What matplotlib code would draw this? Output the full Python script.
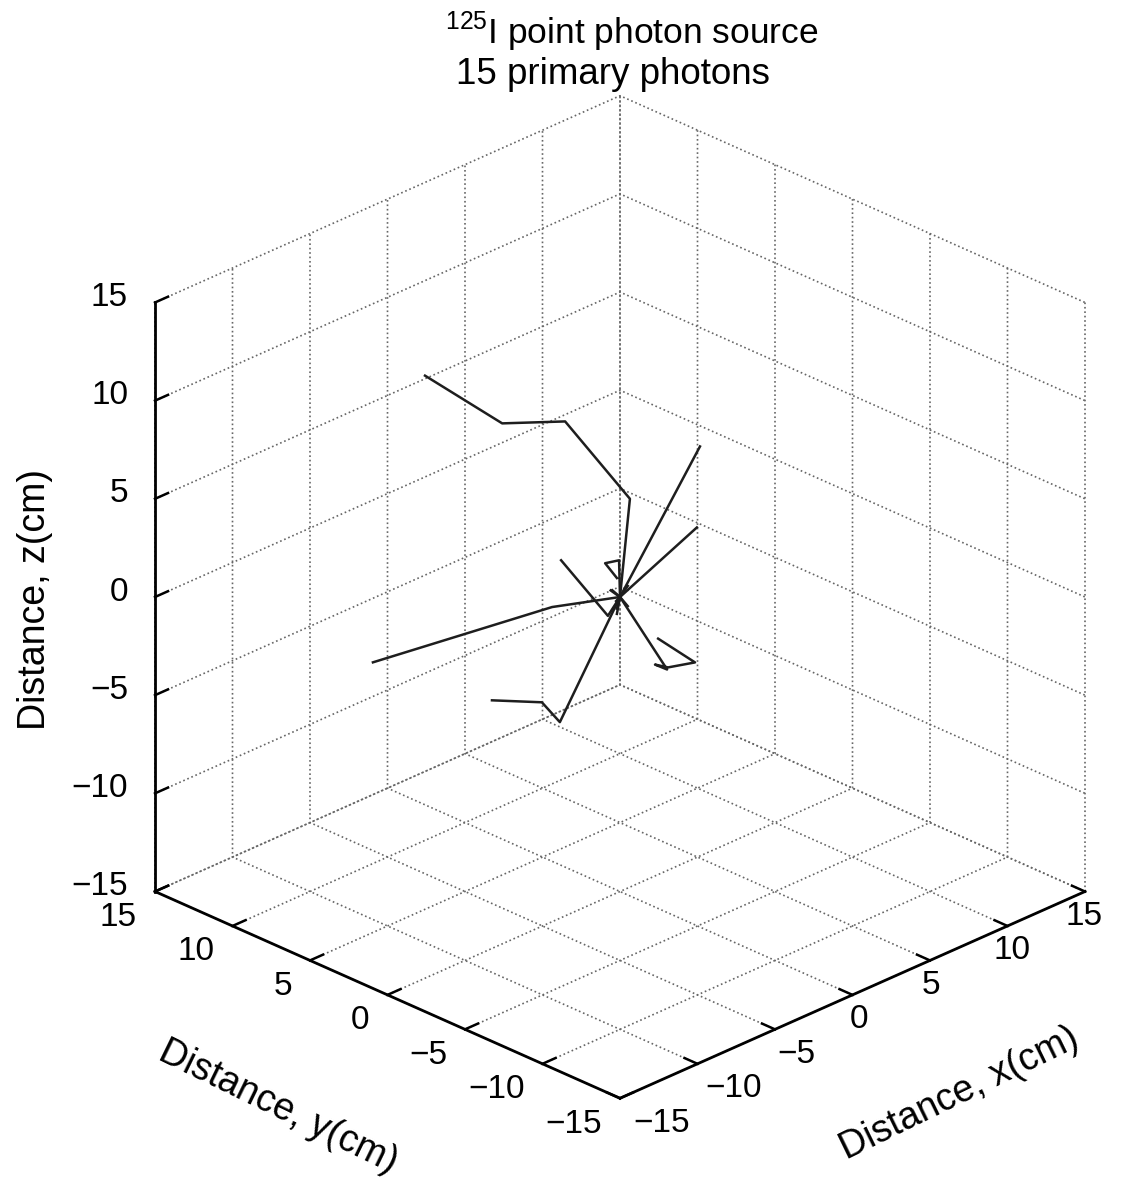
import matplotlib
matplotlib.use('Agg')
import matplotlib.pyplot as plt
from mpl_toolkits.mplot3d import proj3d
import numpy as np

plt.rcParams['font.family'] = ['Liberation Sans', 'DejaVu Sans']
plt.rcParams['mathtext.fontset'] = 'custom'
plt.rcParams['mathtext.rm'] = 'Liberation Sans'
plt.rcParams['grid.color'] = '#666666'
plt.rcParams['grid.linestyle'] = ':'
plt.rcParams['grid.linewidth'] = 1.2

# ---------------- data: 15 primary photon tracks starting at the source (0,0,0) ----------
tracks_x = [
    [0, 0.82, -0.77, -2.30, -4.29],
    [0, 1.58],
    [0, 3.98],
    [0, -0.39, -1.40],
    [0, -2.69, -6.97],
    [0, -3.44, -4.02, -5.13],
    [0, 0.52, 0.13, 0.80, 1.92, 1.23],
    [0, -0.03, -0.48, 0.15],
    [0, -0.10],
    [0, 0.30],
    [0, -0.25],
    [0, 0.15],
    [0, -0.40],
    [0, 0.20],
    [0, 0.05],
]
tracks_y = [
    [0, 0.18, 2.77, 5.30, 8.29],
    [0, -3.58],
    [0, -0.98],
    [0, 0.39, 2.40],
    [0, 1.69, 8.97],
    [0, 0.44, 1.02, 3.13],
    [0, -2.52, -2.13, -2.30, -2.92, -1.23],
    [0, 0.03, 0.48, 0.35],
    [0, 0.10],
    [0, -0.20],
    [0, 0.35],
    [0, 0.40],
    [0, 0.10],
    [0, -0.30],
    [0, 0.25],
]
tracks_z = [
    [0, 4.65, 8.24, 7.79, 9.87],
    [0, 8.37],
    [0, 2.49],
    [0, -0.96, 1.52],
    [0, -0.16, -4.03],
    [0, -5.32, -4.31, -4.56],
    [0, -2.99, -2.74, -3.06, -2.98, -2.12],
    [0, 1.87, 1.72, 0.79],
    [0, -0.86],
    [0, -0.50],
    [0, 0.30],
    [0, -0.40],
    [0, 0.45],
    [0, 0.60],
    [0, -0.70],
]
tick_values = [-15, -10, -5, 0, 5, 10, 15]
tick_labels = ['\u221215', '\u221210', '\u22125', '0', '5', '10', '15']
axis_limits = (-15, 15)
title_lines = [r'$^{125}$I point photon source', '15 primary photons']
xlabel = 'Distance, x(cm)'
ylabel = 'Distance, y(cm)'
zlabel = 'Distance, z(cm)'

W, H = 1147, 1179
fig = plt.figure(figsize=(W / 100, H / 100), dpi=100)
ax = fig.add_axes([0.1, 0.1, 0.8, 0.8], projection='3d')
ax.set_proj_type('ortho')
ax.view_init(elev=26.4, azim=-135)
ax.set_box_aspect((1, 1, 1))

for tx, ty, tz in zip(tracks_x, tracks_y, tracks_z):
    ax.plot(tx, ty, tz, color='#1e1e1e', lw=1.8)

ax.set_xlim(*axis_limits)
ax.set_ylim(*axis_limits)
ax.set_zlim(*axis_limits)
ax.set_xticks(tick_values)
ax.set_yticks(tick_values)
ax.set_zticks(tick_values)
ax.set_xticklabels([])
ax.set_yticklabels([])
ax.set_zticklabels([])

fs_tick = 24
fs_label = 27
fs_title = 26.5
for axis in (ax.xaxis, ax.yaxis, ax.zaxis):
    axis.set_pane_color((1, 1, 1, 0))
    axis.line.set_color('black')
    axis.line.set_linewidth(2.0)
    axis._axinfo['tick']['inward_factor'] = 0.0
    axis._axinfo['tick']['outward_factor'] = 0.35
    axis._axinfo['tick']['linewidth'] = {True: 1.8, False: 1.0}
    axis._axinfo['grid']['color'] = '#666666'
    axis._axinfo['grid']['linestyle'] = ':'
    axis._axinfo['grid']['linewidth'] = 1.2
ax.tick_params(axis='both', colors='black')
ax.tick_params(axis='z', colors='black')

# --- place the axes so that the box lands where the reference has it ---
def to_px(x, y, z):
    xs, ys, _ = proj3d.proj_transform(x, y, z, ax.get_proj())
    return ax.transData.transform((xs, ys))

target_span = 1085 - 155
target_origin = np.array([620.0, H - 597.0])
for _ in range(3):
    fig.canvas.draw()
    L = to_px(-15, 15, -15)
    R = to_px(15, -15, -15)
    O = to_px(0, 0, 0)
    s = target_span / (R[0] - L[0])
    bb = ax.get_position(original=False)
    cx = (bb.x0 + bb.width / 2) * W
    cy = (bb.y0 + bb.height / 2) * H
    size = bb.width * W * s
    ncx = target_origin[0] - s * (O[0] - cx)
    ncy = target_origin[1] - s * (O[1] - cy)
    ax.set_position([(ncx - size / 2) / W, (ncy - size / 2) / H, size / W, size / H])
fig.canvas.draw()

lo, hi = axis_limits
# tick labels, placed next to the projected tick positions
for v, lab in zip(tick_values, tick_labels):
    px, py = to_px(lo, hi, v)           # z axis (left vertical edge)
    fig.text((px - 27) / W, (py + 5) / H, lab, fontsize=fs_tick, ha='right', va='center')
    px, py = to_px(lo, v, lo)           # y axis (lower-left edge)
    fig.text((px - 18) / W, (py - 26) / H, lab, fontsize=fs_tick, ha='right', va='center')
    px, py = to_px(v, lo, lo)           # x axis (lower-right edge)
    fig.text((px - 3 - 1.1 * v) / W, (py - 25) / H, lab, fontsize=fs_tick, ha='left', va='center')

# axis labels
fig.text(35 / W, 1 - 600 / H, zlabel, fontsize=fs_label, rotation=90, ha='center', va='center')
fig.text(278 / W, 1 - 1107 / H, ylabel, fontsize=fs_label, rotation=-26, ha='center', va='center',
         rotation_mode='anchor')
fig.text(959 / W, 1 - 1094 / H, xlabel, fontsize=fs_label, rotation=26, ha='center', va='center',
         rotation_mode='anchor')

fig.text(632 / W, 1 - 32 / H, title_lines[0], fontsize=25.5, ha='center', va='center')
fig.text(613 / W, 1 - 75 / H, title_lines[1], fontsize=fs_title, ha='center', va='center')

fig.savefig('out.png', dpi=100, facecolor='white')
